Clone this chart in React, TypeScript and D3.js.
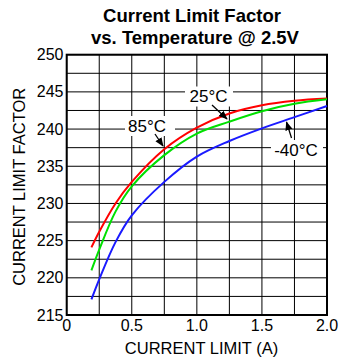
import React from "react";
import * as d3 from "d3";

const xs = [0.19, 0.25, 0.375, 0.5, 0.75, 1.0, 1.25, 1.5, 1.75, 2.0];
const red85 = [224.1, 226.2, 230.0, 232.9, 237.3, 240.2, 242.1, 243.2, 243.8, 244.1];
const green25 = [221.0, 223.8, 228.9, 232.3, 236.5, 239.4, 241.0, 242.4, 243.4, 244.0];
const blueM40 = [217.1, 219.8, 224.8, 228.4, 232.9, 236.3, 238.4, 240.1, 241.6, 243.1];
const xTicks = [0, 0.5, 1.0, 1.5, 2.0];
const xTickLabels = ["0", "0.5", "1.0", "1.5", "2.0"];
const yTicks = [215, 220, 225, 230, 235, 240, 245, 250];

const W = 339, H = 360;
const L = 66.7, R = 327, T = 54.7, B = 315;
const font = "Liberation Sans, Arial, sans-serif";

export default function App() {
  const x = d3.scaleLinear().domain([0, 2]).range([L, R]);
  const y = d3.scaleLinear().domain([215, 250]).range([B, T]);
  const line = d3.line<number>().x((_, i) => x(xs[i])).y((d) => y(d)).curve(d3.curveCatmullRom.alpha(0.5));
  const vGrid = d3.range(0, 2.0001, 0.25);
  const hGrid = d3.range(215, 250.001, 2.5);
  const series = [
    { v: red85, c: "#ff0000" },
    { v: green25, c: "#00e000" },
    { v: blueM40, c: "#1a1aff" },
  ];
  const labels = [
    { t: "85°C", cx: 147, cy: 126, bx: 125, bw: 50, ax1: 155, ay1: 134, ax2: 163, ay2: 146 },
    { t: "25°C", cx: 208.5, cy: 96.5, bx: 185, bw: 48, ax1: 212, ay1: 105, ax2: 227, ay2: 119 },
    { t: "-40°C", cx: 296, cy: 150, bx: 271, bw: 52, ax1: 291.5, ay1: 138, ax2: 286.5, ay2: 122 },
  ];
  return (
    <svg width={W} height={H} style={{ position: "absolute", left: 0, top: 0, background: "#fff" }} fontFamily={font}>
      <defs>
        <marker id="ah" viewBox="0 0 10 10" refX="9" refY="5" markerWidth="7" markerHeight="7" orient="auto">
          <path d="M0,1 L10,5 L0,9 z" fill="#000" />
        </marker>
      </defs>
      <rect width={W} height={H} fill="#fff" />
      <text x={192} y={22} textAnchor="middle" fontWeight="bold" fontSize={18.5}>Current Limit Factor</text>
      <text x={195} y={44} textAnchor="middle" fontWeight="bold" fontSize={18.5}>vs. Temperature @ 2.5V</text>
      {hGrid.map((g) => (
        <line key={"h" + g} x1={L} x2={R} y1={y(g)} y2={y(g)} stroke="#000" strokeWidth={1} />
      ))}
      {vGrid.map((g) => (
        <line key={"v" + g} x1={x(g)} x2={x(g)} y1={T} y2={B} stroke="#000" strokeWidth={1} />
      ))}
      {labels.map((l) => (
        <rect key={"b" + l.t} x={l.bx} y={l.cy - 10} width={l.bw} height={20} fill="#fff" />
      ))}
      <rect x={L} y={T} width={R - L} height={B - T} fill="none" stroke="#000" strokeWidth={2} />
      {series.map((s) => (
        <path key={s.c} d={line(s.v) || ""} fill="none" stroke={s.c} strokeWidth={2} />
      ))}
      {labels.map((l) => (
        <g key={l.t}>
          <text x={l.cx} y={l.cy} textAnchor="middle" dominantBaseline="central" fontSize={17}>{l.t}</text>
          <line x1={l.ax1} y1={l.ay1} x2={l.ax2} y2={l.ay2} stroke="#000" strokeWidth={1.3} markerEnd="url(#ah)" />
        </g>
      ))}
      {yTicks.map((t) => (
        <text key={"yt" + t} x={63.5} y={y(t)} textAnchor="end" dominantBaseline="central" fontSize={16}>{t}</text>
      ))}
      {xTicks.map((t, i) => (
        <text key={"xt" + t} x={x(t)} y={331} textAnchor="middle" fontSize={16}>{xTickLabels[i]}</text>
      ))}
      <text x={201.5} y={354} textAnchor="middle" fontSize={16.5}>CURRENT LIMIT (A)</text>
      <text transform={`translate(24.5,${(T + B) / 2 + 2})  rotate(-90)`} textAnchor="middle" fontSize={16.5}>CURRENT LIMIT FACTOR</text>
    </svg>
  );
}
